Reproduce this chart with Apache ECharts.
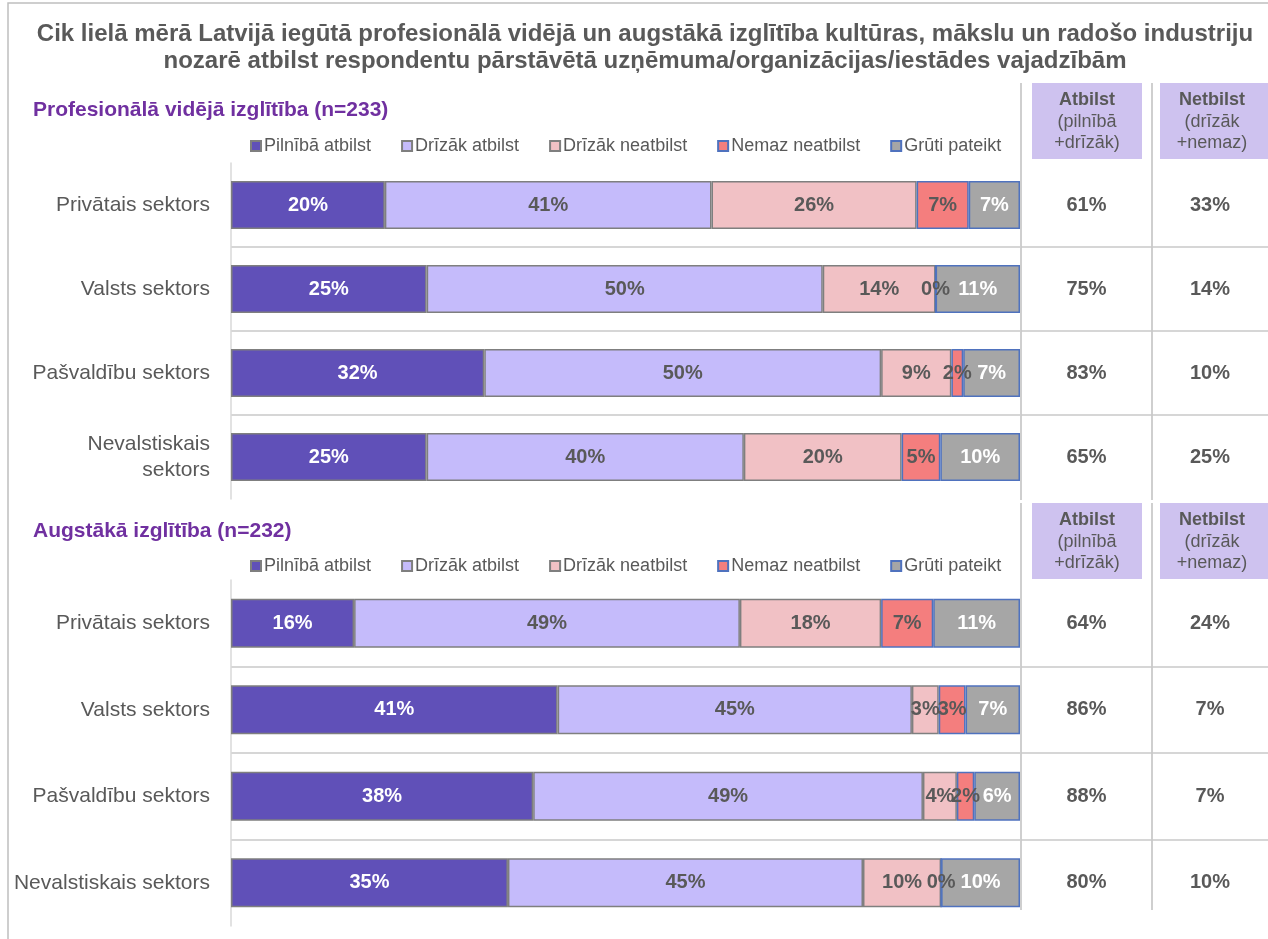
<!DOCTYPE html>
<html>
<head>
<meta charset="utf-8">
<script src="https://cdn.jsdelivr.net/npm/echarts@6/dist/echarts.min.js"></script>
<style>
  html, body { margin: 0; padding: 0; background: #fff; }
  #chart { width: 1268px; height: 939px; }
</style>
</head>
<body>
<div id="chart"></div>
<script>
// kategorijas
const categoriesA = ['Privātais sektors', 'Valsts sektors', 'Pašvaldību sektors', 'Nevalstiskais\nsektors'];
const categoriesB = ['Privātais sektors', 'Valsts sektors', 'Pašvaldību sektors', 'Nevalstiskais sektors'];
const seriesNames = ['Pilnībā atbilst', 'Drīzāk atbilst', 'Drīzāk neatbilst', 'Nemaz neatbilst', 'Grūti pateikt'];

// Profesionālā vidējā izglītība (n=233), % of respondents
const pilnibaA = [19.5, 24.8, 32.1, 24.8];
const drizakA = [41.4, 50.2, 50.3, 40.2];
const drizakNeA = [26.0, 14.3, 8.9, 20.0];
const nemazA = [6.6, 0, 1.5, 4.9];
const grutiA = [6.5, 10.7, 7.2, 10.1];
const atbilstA = [61, 75, 83, 65];
const netbilstA = [33, 14, 10, 25];

// Augstākā izglītība (n=232)
const pilnibaB = [15.6, 41.4, 38.3, 35.1];
const drizakB = [48.9, 44.9, 49.4, 45.0];
const drizakNeB = [17.9, 3.4, 4.3, 9.9];
const nemazB = [6.6, 3.4, 2.2, 0];
const grutiB = [11.0, 6.9, 5.8, 10.0];
const atbilstB = [64, 86, 88, 80];
const netbilstB = [24, 7, 7, 10];

const colors = ['#6050B8', '#C5BBFB', '#F1C1C5', '#F47E7E', '#A6A6A6'];
const borders = ['#7F7F7F', '#7F7F7F', '#7F7F7F', '#4F72BE', '#4F72BE'];
const labelColors = ['#fff', '#595959', '#595959', '#595959', '#fff'];
const FONT = "'Liberation Sans', Arial, sans-serif";
const GREY = '#595959';

// panel layout: top / height of plot, header box top, bar width
const panels = [
    { cats: categoriesA, vals: [pilnibaA, drizakA, drizakNeA, nemazA, grutiA], atb: atbilstA, net: netbilstA,
      top: 163, height: 336, barWidth: 48, head: 83, lineEnd: 500, subtitle: 'Profesionālā vidējā izglītība (n=233)', subTop: 100, legendTop: 137 },
    { cats: categoriesB, vals: [pilnibaB, drizakB, drizakNeB, nemazB, grutiB], atb: atbilstB, net: netbilstB,
      top: 580, height: 346, barWidth: 49, head: 503, lineEnd: 910, subtitle: 'Augstākā izglītība (n=232)', subTop: 521, legendTop: 557 }
]

let myChart = echarts.init(document.getElementById('chart'))

let grid = [], xAxis = [], yAxis = [], series = [], legend = [], graphic = []
let title = [{
    text: 'Cik lielā mērā Latvijā iegūtā profesionālā vidējā un augstākā izglītība kultūras, mākslu un radošo industriju\nnozarē atbilst respondentu pārstāvētā uzņēmuma/organizācijas/iestādes vajadzībām',
    left: 645, top: 21, padding: 0, textAlign: 'center',
    textStyle: { fontFamily: FONT, fontSize: 24, fontWeight: 'bold', color: GREY, lineHeight: 27 }
}]

graphic.push({ type: 'rect', shape: { x: 8, y: 3, width: 1300, height: 1000 }, style: { fill: 'none', stroke: '#BFBFBF', lineWidth: 1.5 }, silent: true })

panels.forEach((p, pi) => {
    let g0 = grid.length
    grid.push({ left: 231, width: 789, top: p.top, height: p.height })
    grid.push({ left: 1021, width: 131, top: p.top, height: p.height })
    grid.push({ left: 1152, width: 124, top: p.top, height: p.height })

    for (let k = 0; k < 3; k++) {
        xAxis.push({ type: 'value', gridIndex: g0 + k, min: 0, max: k == 0 ? 100 : 1, show: false })
        yAxis.push({
            type: 'category', gridIndex: g0 + k, inverse: true, data: p.cats,
            axisLine: { show: k == 0, lineStyle: { color: '#D9D9D9', width: 1.5 } },
            axisTick: { show: false },
            axisLabel: { show: k == 0, margin: 21, fontFamily: FONT, fontSize: 21, color: GREY, lineHeight: 26 },
            splitLine: { show: true, showMinLine: false, showMaxLine: false, lineStyle: { color: '#C8C8C8', width: 1.5 } }
        })
    }

    p.vals.forEach((vals, si) => {
        series.push({
            name: seriesNames[si], type: 'bar', stack: 'p' + pi, barWidth: p.barWidth,
            xAxisIndex: g0, yAxisIndex: g0,
            itemStyle: { color: colors[si], borderColor: borders[si], borderWidth: 1.5 },
            label: {
                show: true, position: 'inside', fontFamily: FONT, fontSize: 20, fontWeight: 'bold', color: labelColors[si],
                formatter: (d) => Math.round(d.value) + '%'
            },
            data: vals
        })
    });

    // Atbilst / Netbilst kolonnas
    [p.atb, p.net].forEach((vals, ci) => {
        series.push({
            type: 'scatter', xAxisIndex: g0 + 1 + ci, yAxisIndex: g0 + 1 + ci,
            symbolSize: 0, itemStyle: { color: '#fff' },
            label: {
                show: true, position: 'inside', fontFamily: FONT, fontSize: 20, fontWeight: 'bold', color: GREY,
                textBorderWidth: 0, opacity: 1,
                formatter: (d) => d.value[2] + '%'
            },
            emphasis: { disabled: true },
            data: vals.map((v, i) => [0.5, i, v])
        })
    })

    title.push({
        text: p.subtitle, left: 33, top: p.subTop, padding: 0,
        textStyle: { fontFamily: FONT, fontSize: 21, fontWeight: 'bold', color: '#7030A0' }
    })

    legend.push({
        data: seriesNames, top: p.legendTop, left: 250, padding: 0,
        itemWidth: 10, itemHeight: 10, itemGap: 30, icon: 'rect',
        textStyle: { fontFamily: FONT, fontSize: 18, color: GREY, padding: [0, 0, 0, -2] }
    })

    // header boxes + column lines
    let boxes = [
        { x: 1032, w: 110, t1: 'Atbilst', t2: '(pilnībā\n+drīzāk)' },
        { x: 1160, w: 110, t1: 'Netbilst', t2: '(drīzāk\n+nemaz)' }
    ]
    boxes.forEach(b => {
        let cx = b.x + b.w / 2 - (b.x > 1150 ? 3 : 0)
        graphic.push({ type: 'rect', shape: { x: b.x, y: p.head, width: b.w, height: 76 }, style: { fill: '#CEC2EF' }, silent: true })
        graphic.push({
            type: 'text', x: cx, y: p.head + 17,
            style: { text: b.t1, font: 'bold 18px ' + FONT, fill: GREY, textAlign: 'center', textVerticalAlign: 'middle' }
        })
        graphic.push({
            type: 'text', x: cx, y: p.head + 49.5,
            style: { text: b.t2, font: '18px ' + FONT, fill: GREY, textAlign: 'center', textVerticalAlign: 'middle', lineHeight: 21.5 }
        })
    });
    [1021, 1152].forEach(x => {
        graphic.push({ type: 'line', shape: { x1: x, y1: p.head, x2: x, y2: p.lineEnd }, style: { stroke: '#BFBFBF', lineWidth: 1.5 }, silent: true })
    })
})

let option = {
    backgroundColor: '#fff',
    animation: false,
    title: title,
    legend: legend,
    grid: grid,
    xAxis: xAxis,
    yAxis: yAxis,
    series: series,
    graphic: graphic
}
myChart.setOption(option)
</script>
</body>
</html>
